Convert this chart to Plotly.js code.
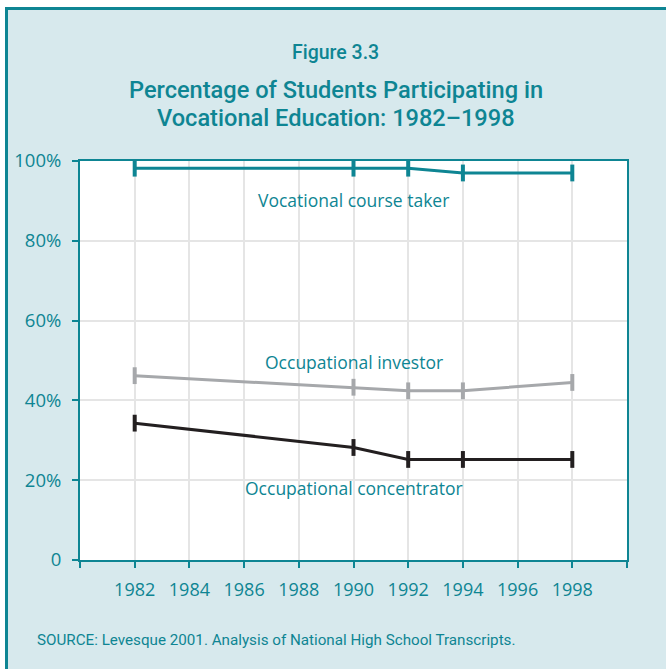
<!DOCTYPE html>
<html><head><meta charset="utf-8">
<script src="https://cdn.plot.ly/plotly-3.0.1.min.js"></script>
<style>html,body{margin:0;padding:0;background:#fff}#c{width:666px;height:669px}</style>
</head><body><div id="c"></div>
<script>
const years = [1982, 1990, 1992, 1994, 1998];
const courseTaker = [98.2, 98.2, 98.2, 97.0, 97.0];
const investor = [46.2, 43.3, 42.4, 42.4, 44.5];
const concentrator = [34.3, 28.2, 25.2, 25.2, 25.2];
const xTicks = [1980, 1982, 1984, 1986, 1988, 1990, 1992, 1994, 1996, 1998, 2000];
const xTickText = ["", "1982", "1984", "1986", "1988", "1990", "1992", "1994", "1996", "1998", ""];
const yTicks = [0, 20, 40, 60, 80, 100];
const yTickText = ["0", "20%", "40%", "60%", "80%", "100%"];
const seriesNames = ["Vocational course taker", "Occupational investor", "Occupational concentrator"];

const TEAL = "#0e8593", GREY = "#a6a8ab", BLACK = "#231f20", BG = "#d7e9ed";
const FONT = "'Open Sans', 'Noto Sans', sans-serif";
const COND = "Roboto, 'Open Sans', sans-serif";

function tr(y, name, color) {
  return {x: years, y: y, name: name, type: "scatter", mode: "lines+markers",
    line: {color: color, width: 3},
    marker: {symbol: "line-ns", size: 12, line: {color: color, width: 4}},
    hoverinfo: "skip"};
}
const data = [tr(courseTaker, seriesNames[0], TEAL), tr(investor, seriesNames[1], GREY), tr(concentrator, seriesNames[2], BLACK)];

const L = 80, R = 39, T = 161, B = 109, W = 666 - L - R, H = 669 - T - B;
const px = v => (v - L) / W, py = v => (669 - B - v) / H;

const layout = {
  width: 666, height: 669, showlegend: false,
  margin: {l: L, r: R, t: T, b: B},
  paper_bgcolor: BG, plot_bgcolor: "#ffffff",
  font: {family: FONT, color: TEAL},
  xaxis: {range: [1980, 2000], tickvals: xTicks, ticktext: xTickText, ticks: "outside", ticklen: 6, tickwidth: 2, tickcolor: TEAL,
    showline: true, linecolor: TEAL, linewidth: 2, mirror: true, showgrid: true, gridcolor: "#e5e5e5", gridwidth: 2,
    zeroline: false, tickfont: {size: 18, color: TEAL, family: FONT}, ticklabelstandoff: 6, fixedrange: true},
  yaxis: {range: [0, 100], tickvals: yTicks, ticktext: yTickText, ticks: "outside", ticklen: 6, tickwidth: 2, tickcolor: TEAL,
    showline: true, linecolor: TEAL, linewidth: 2, mirror: true, showgrid: true, gridcolor: "#e5e5e5", gridwidth: 2,
    zeroline: false, tickfont: {size: 18.5, color: TEAL, family: FONT}, ticklabelstandoff: 7, fixedrange: true},
  shapes: [
    {type: "rect", xref: "paper", yref: "paper", x0: px(-5), x1: px(680), y0: py(0), y1: py(7), fillcolor: "#ffffff", line: {width: 0}},
    {type: "rect", xref: "paper", yref: "paper", x0: px(-5), x1: px(5), y0: py(0), y1: py(680), fillcolor: "#ffffff", line: {width: 0}},
    {type: "line", xref: "paper", yref: "paper", x0: px(5), x1: px(680), y0: py(8.5), y1: py(8.5), line: {color: TEAL, width: 3}},
    {type: "line", xref: "paper", yref: "paper", x0: px(6.5), x1: px(6.5), y0: py(7), y1: py(680), line: {color: TEAL, width: 3}}
  ],
  annotations: [
    {xref: "paper", yref: "paper", x: px(335), y: py(52), text: "Figure 3.3", showarrow: false, xanchor: "center", yanchor: "middle", font: {family: COND, size: 19.5, weight: 500, color: TEAL}},
    {xref: "paper", yref: "paper", x: px(336), y: py(90), text: "Percentage of Students Participating in", showarrow: false, xanchor: "center", yanchor: "middle", font: {family: COND, size: 23.6, weight: 500, color: TEAL}},
    {xref: "paper", yref: "paper", x: px(336), y: py(118), text: "Vocational Education: 1982–1998", showarrow: false, xanchor: "center", yanchor: "middle", font: {family: COND, size: 23.6, weight: 500, color: TEAL}},
    {xref: "x", yref: "y", x: 1990, y: 90.2, text: seriesNames[0], showarrow: false, font: {size: 17.5, color: TEAL}},
    {xref: "x", yref: "y", x: 1990, y: 49.6, text: seriesNames[1], showarrow: false, font: {size: 17.5, color: TEAL}},
    {xref: "x", yref: "y", x: 1990, y: 18.0, text: seriesNames[2], showarrow: false, font: {size: 17.5, color: TEAL}},
    {xref: "paper", yref: "paper", x: px(35), y: py(640), text: "SOURCE: Levesque 2001. Analysis of National High School Transcripts.", showarrow: false, xanchor: "left", yanchor: "middle", font: {family: COND, size: 15.2, color: TEAL}}
  ]
};
Plotly.newPlot("c", data, layout, {displayModeBar: false, staticPlot: true});
</script></body></html>
